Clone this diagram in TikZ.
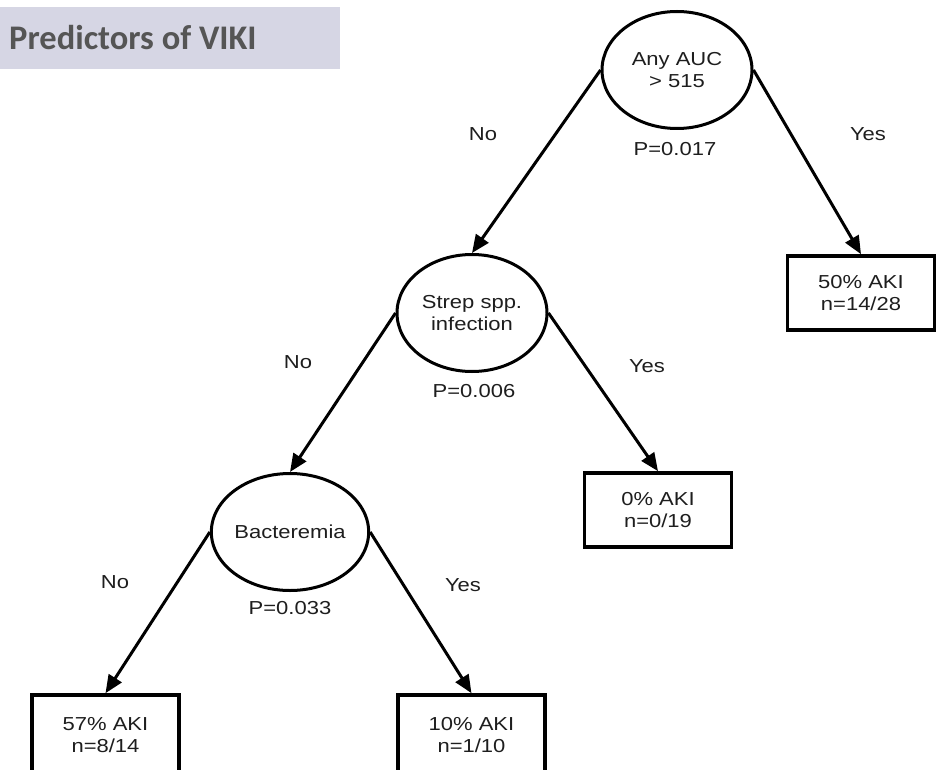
\documentclass[tikz,border=0pt]{standalone}
\usepackage{fontspec}
\usetikzlibrary{shapes.geometric,arrows.meta}
\newfontfamily\labfont[FakeStretch=1.17]{Liberation Sans}
\newfontfamily\titlefont{Carlito}
\definecolor{titlebg}{RGB}{214,214,228}
\definecolor{titlefg}{RGB}{85,85,85}
\definecolor{txt}{RGB}{30,30,30}
\begin{document}
\begin{tikzpicture}[x=1pt,y=-1pt,
  lab/.style={font=\labfont\fontsize{18.8}{22}\selectfont, text=txt, inner sep=0pt, align=center},
  splitnode/.style={lab, draw=black, line width=3pt, ellipse, minimum width=150pt, minimum height=117pt},
  leafbox/.style={lab, draw=black, line width=3.6pt, rectangle, minimum width=147pt, minimum height=74pt},
  conn/.style={draw=black, line width=3pt, -{Triangle[length=18pt,width=15pt]}}]
\useasboundingbox (0,0) rectangle (944,770);
\clip (0,0) rectangle (944,770);
\fill[white] (0,0) rectangle (944,770);
% title
\fill[titlebg] (0,7) rectangle (340,69);
\node[anchor=base west, inner sep=0pt, text=titlefg, font=\titlefont\bfseries\fontsize{34.5}{38}\selectfont] (title) at (9,50) {Predictors of VIKI};
% split nodes
\node[splitnode] (auc) at (677,70) {Any AUC\\> 515};
\node[splitnode] (strep) at (472,313) {Strep spp.\\infection};
\node[splitnode] (bact) at (290,532) {Bacteremia};
% leaves
\node[leafbox] (b50) at (861,293) {50\% AKI\\n=14/28};
\node[leafbox] (b0) at (658,510) {0\% AKI\\n=0/19};
\node[leafbox, minimum height=80pt] (b57) at (105.5,735) {57\% AKI\\n=8/14};
\node[leafbox, minimum height=80pt] (b10) at (471.5,735) {10\% AKI\\n=1/10};
% p-values
\node[lab] (p1) at (675,149) {P=0.017};
\node[lab] (p2) at (474,391) {P=0.006};
\node[lab] (p3) at (290,608) {P=0.033};
% branch labels
\node[lab] (n1) at (483,134) {No};
\node[lab] (y1) at (868,134) {Yes};
\node[lab] (n2) at (298,362) {No};
\node[lab] (y2) at (647,366) {Yes};
\node[lab] (n3) at (115,582) {No};
\node[lab] (y3) at (463,585) {Yes};
% connectors
\draw[conn] (auc.west) -- (strep.north);
\draw[conn] (auc.east) -- (b50.north);
\draw[conn] (strep.west) -- (bact.north);
\draw[conn] (strep.east) -- (b0.north);
\draw[conn] (bact.west) -- (b57.north);
\draw[conn] (bact.east) -- (b10.north);
\end{tikzpicture}
\end{document}
